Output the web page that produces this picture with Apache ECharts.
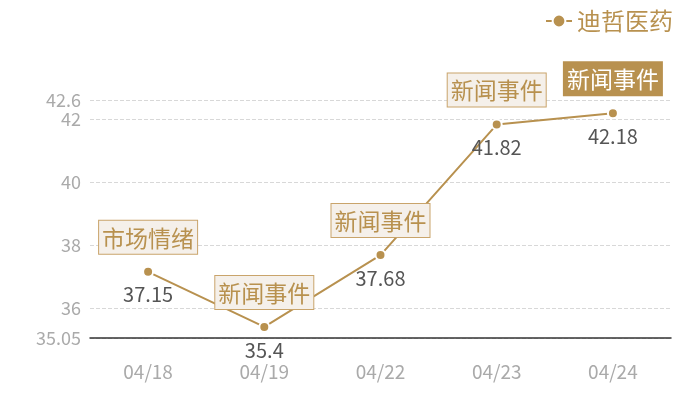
<!DOCTYPE html>
<html>
<head>
<meta charset="utf-8">
<script src="https://cdn.jsdelivr.net/npm/echarts@6/dist/echarts.min.js"></script>
<style>html,body{margin:0;padding:0;background:#fff}#c{width:700px;height:400px}</style>
</head>
<body>
<div id="c"></div>
<script>
var categories = ['04/18', '04/19', '04/22', '04/23', '04/24'];
var prices = [37.15, 35.4, 37.68, 41.82, 42.18];
var notes = ['市场情绪', '新闻事件', '新闻事件', '新闻事件', '新闻事件'];
var highlightIndex = 4;
var yMin = 35.05, yMax = 42.6;
var seriesName = '迪哲医药';

var GOLD = '#b8914f';
var FONT = '"Noto Sans CJK SC", "Noto Sans", sans-serif';

var markData = prices.map(function (v, i) {
  var hi = i === highlightIndex;
  return {
    coord: [i, v],
    value: notes[i],
    label: {
      backgroundColor: hi ? GOLD : '#f5f0ea',
      borderColor: hi ? GOLD : '#c9a46b',
      color: hi ? '#fff' : GOLD
    }
  };
});

var chart = echarts.init(document.getElementById('c'));
chart.setOption({
  animation: false,
  textStyle: { fontFamily: FONT },
  legend: {
    right: 22, top: 4,
    itemWidth: 26, itemHeight: 16, itemGap: 6,
    textStyle: { fontSize: 24, color: GOLD, fontFamily: FONT },
    data: [seriesName]
  },
  grid: { left: 90, right: 29, top: 100, bottom: 62 },
  xAxis: {
    type: 'category',
    data: categories,
    axisLine: { lineStyle: { color: '#333', width: 1.5 } },
    axisTick: { show: false },
    axisLabel: { color: '#aaa', fontSize: 19, margin: 24, fontFamily: FONT }
  },
  yAxis: {
    type: 'value',
    min: yMin, max: yMax,
    axisLine: { show: false },
    axisTick: { show: false },
    axisLabel: { color: '#aaa', fontSize: 18, margin: 9, fontFamily: FONT },
    splitLine: { lineStyle: { type: 'dashed', color: '#d8d8d8' } }
  },
  series: [{
    name: seriesName,
    type: 'line',
    data: prices,
    color: GOLD,
    symbol: 'circle',
    symbolSize: 10,
    lineStyle: { width: 2, color: GOLD },
    itemStyle: { color: GOLD, borderColor: '#fff', borderWidth: 2 },
    label: {
      show: true, position: 'bottom', distance: 7,
      fontSize: 20, color: '#555', fontFamily: FONT
    },
    markPoint: {
      symbol: 'circle', symbolSize: 0,
      label: {
        show: true, position: 'top', distance: 18,
        fontSize: 23, lineHeight: 26, padding: [4, 3, 3, 3],
        borderWidth: 1, fontFamily: FONT,
        formatter: function (p) { return p.value; }
      },
      data: markData
    }
  }]
});
</script>
</body>
</html>
